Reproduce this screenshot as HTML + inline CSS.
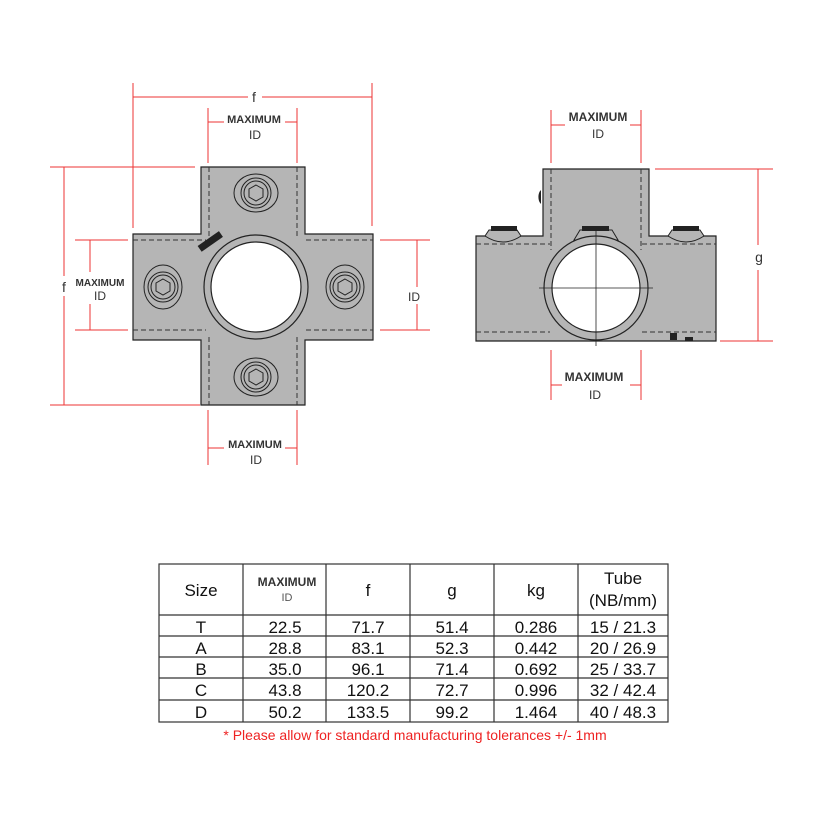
<!DOCTYPE html>
<html><head><style>
html,body{margin:0;padding:0;background:#fff;}
svg{display:block;font-family:"Liberation Sans",Arial,sans-serif;}
</style></head><body>
<svg width="824" height="824" viewBox="0 0 824 824" xmlns="http://www.w3.org/2000/svg">
<rect width="824" height="824" fill="#fff"/>
<!-- LEFT VIEW -->
<g stroke="#222" stroke-width="1.2" fill="#b5b5b5">
<path d="M201,167 H305 V234 H373 V340 H305 V405 H201 V340 H133 V234 H201 Z"/>
</g>
<g stroke="#333" stroke-width="1" stroke-dasharray="5,3" fill="none">
<line x1="209" y1="167" x2="209" y2="238"/><line x1="297" y1="167" x2="297" y2="238"/>
<line x1="209" y1="337" x2="209" y2="405"/><line x1="297" y1="337" x2="297" y2="405"/>
<line x1="133" y1="240" x2="206" y2="240"/><line x1="306" y1="240" x2="373" y2="240"/>
<line x1="133" y1="330" x2="206" y2="330"/><line x1="306" y1="330" x2="373" y2="330"/>
</g>
<circle cx="256" cy="287" r="52" fill="#b5b5b5" stroke="#222" stroke-width="1.2"/>
<circle cx="256" cy="287" r="45" fill="#fff" stroke="#222" stroke-width="1.2"/>
<rect x="197" y="238" width="26" height="7" fill="#222" transform="rotate(-35 210 241)"/>
<g fill="none" stroke="#222" stroke-width="1">
<g id="b1"><ellipse cx="256" cy="193" rx="22" ry="19"/><circle cx="256" cy="193" r="15"/><circle cx="256" cy="193" r="12"/><polygon points="256,185 263,189 263,197 256,201 249,197 249,189"/></g>
<g><ellipse cx="256" cy="377" rx="22" ry="19"/><circle cx="256" cy="377" r="15"/><circle cx="256" cy="377" r="12"/><polygon points="256,369 263,373 263,381 256,385 249,381 249,373"/></g>
<g><ellipse cx="163" cy="287" rx="19" ry="22"/><circle cx="163" cy="287" r="15"/><circle cx="163" cy="287" r="12"/><polygon points="163,279 170,283 170,291 163,295 156,291 156,283"/></g>
<g><ellipse cx="345" cy="287" rx="19" ry="22"/><circle cx="345" cy="287" r="15"/><circle cx="345" cy="287" r="12"/><polygon points="345,279 352,283 352,291 345,295 338,291 338,283"/></g>
</g>
<!-- red dims left -->
<g stroke="#e33" stroke-width="1" fill="none">
<line x1="133" y1="83" x2="133" y2="228"/><line x1="372" y1="83" x2="372" y2="226"/>
<line x1="133" y1="97" x2="248" y2="97"/><line x1="262" y1="97" x2="372" y2="97"/>
<line x1="208" y1="108" x2="208" y2="163"/><line x1="297" y1="108" x2="297" y2="163"/>
<line x1="208" y1="122" x2="224" y2="122"/><line x1="285" y1="122" x2="297" y2="122"/>
<line x1="50" y1="167" x2="195" y2="167"/><line x1="50" y1="405" x2="200" y2="405"/>
<line x1="64" y1="167" x2="64" y2="276"/><line x1="64" y1="296" x2="64" y2="405"/>
<line x1="75" y1="240" x2="128" y2="240"/><line x1="75" y1="330" x2="128" y2="330"/>
<line x1="90" y1="240" x2="90" y2="272"/><line x1="90" y1="304" x2="90" y2="330"/>
<line x1="380" y1="240" x2="430" y2="240"/><line x1="380" y1="330" x2="430" y2="330"/>
<line x1="417" y1="240" x2="417" y2="287"/><line x1="417" y1="304" x2="417" y2="330"/>
<line x1="208" y1="410" x2="208" y2="465"/><line x1="297" y1="410" x2="297" y2="465"/>
<line x1="208" y1="448" x2="224" y2="448"/><line x1="285" y1="448" x2="297" y2="448"/>
</g>
<g font-size="12" fill="#333" text-anchor="middle">
<text x="254" y="102" font-size="14">f</text>
<text x="254" y="123" font-weight="bold" font-size="11">MAXIMUM</text><text x="255" y="139" font-size="12">ID</text>
<text x="64" y="292" font-size="14">f</text>
<text x="100" y="286" font-weight="bold" font-size="10">MAXIMUM</text><text x="100" y="300">ID</text>
<text x="414" y="301">ID</text>
<text x="255" y="448" font-weight="bold" font-size="11">MAXIMUM</text><text x="256" y="464">ID</text>
</g>
<!-- RIGHT VIEW -->
<path d="M543,169 H649 V236 H716 V341 H476 V236 H543 Z" fill="#b5b5b5" stroke="#222" stroke-width="1.2"/>
<path d="M541,190 a5,8 0 0 0 0,14" fill="#222"/>
<g stroke="#333" stroke-width="1" stroke-dasharray="5,3" fill="none">
<line x1="551" y1="169" x2="551" y2="250"/><line x1="641" y1="169" x2="641" y2="250"/>
<line x1="476" y1="244" x2="550" y2="244"/><line x1="642" y1="244" x2="716" y2="244"/>
<line x1="476" y1="332" x2="550" y2="332"/><line x1="642" y1="332" x2="716" y2="332"/>
</g>
<g fill="#b5b5b5" stroke="#222" stroke-width="1">
<path d="M485,236 q18,12 36,0 l-4,-6 h-28 z"/><path d="M668,236 q18,12 36,0 l-4,-6 h-28 z"/>
<path d="M574,240 l6,-10 h32 l6,10 z"/>
</g>
<g fill="#222"><rect x="491" y="226" width="26" height="5"/><rect x="582" y="226" width="27" height="5"/><rect x="673" y="226" width="26" height="5"/>
<rect x="670" y="333" width="7" height="7"/><rect x="685" y="337" width="8" height="4"/></g>
<circle cx="596" cy="288" r="52" fill="#b5b5b5" stroke="#222" stroke-width="1.2"/>
<circle cx="596" cy="288" r="44" fill="#fff" stroke="#222" stroke-width="1.2"/>
<g stroke="#222" stroke-width="0.8"><line x1="596" y1="226" x2="596" y2="346"/><line x1="539" y1="288" x2="653" y2="288"/></g>
<g stroke="#e33" stroke-width="1" fill="none">
<line x1="551" y1="110" x2="551" y2="163"/><line x1="641" y1="110" x2="641" y2="163"/>
<line x1="551" y1="125" x2="565" y2="125"/><line x1="630" y1="125" x2="641" y2="125"/>
<line x1="655" y1="169" x2="773" y2="169"/><line x1="720" y1="341" x2="773" y2="341"/>
<line x1="758" y1="169" x2="758" y2="245"/><line x1="758" y1="270" x2="758" y2="341"/>
<line x1="551" y1="350" x2="551" y2="400"/><line x1="641" y1="350" x2="641" y2="400"/>
<line x1="551" y1="385" x2="562" y2="385"/><line x1="630" y1="385" x2="641" y2="385"/>
</g>
<g fill="#333" text-anchor="middle">
<text x="598" y="121" font-weight="bold" font-size="12">MAXIMUM</text><text x="598" y="138" font-size="12">ID</text>
<text x="759" y="262" font-size="14">g</text>
<text x="594" y="381" font-weight="bold" font-size="12">MAXIMUM</text><text x="595" y="399" font-size="12">ID</text>
</g>
<!-- TABLE -->
<g stroke="#333" stroke-width="1.2" fill="none">
<rect x="159" y="564" width="509" height="158"/>
<line x1="243" y1="564" x2="243" y2="722"/><line x1="326" y1="564" x2="326" y2="722"/>
<line x1="410" y1="564" x2="410" y2="722"/><line x1="494" y1="564" x2="494" y2="722"/>
<line x1="578" y1="564" x2="578" y2="722"/>
<line x1="159" y1="615" x2="668" y2="615"/><line x1="159" y1="636" x2="668" y2="636"/>
<line x1="159" y1="657" x2="668" y2="657"/><line x1="159" y1="678" x2="668" y2="678"/>
<line x1="159" y1="700" x2="668" y2="700"/>
</g>
<g fill="#111" text-anchor="middle" font-size="17">
<text x="201" y="596">Size</text>
<text x="287" y="586" font-size="12" font-weight="bold" fill="#333">MAXIMUM</text><text x="287" y="601" font-size="11" fill="#555">ID</text>
<text x="368" y="596">f</text><text x="452" y="596">g</text><text x="536" y="596">kg</text>
<text x="623" y="584">Tube</text><text x="623" y="606">(NB/mm)</text>
</g>
<g fill="#111" text-anchor="middle" font-size="17">
<text x="201" y="633">T</text><text x="285" y="633">22.5</text><text x="368" y="633">71.7</text><text x="452" y="633">51.4</text><text x="536" y="633">0.286</text><text x="623" y="633">15 / 21.3</text>
<text x="201" y="654">A</text><text x="285" y="654">28.8</text><text x="368" y="654">83.1</text><text x="452" y="654">52.3</text><text x="536" y="654">0.442</text><text x="623" y="654">20 / 26.9</text>
<text x="201" y="675">B</text><text x="285" y="675">35.0</text><text x="368" y="675">96.1</text><text x="452" y="675">71.4</text><text x="536" y="675">0.692</text><text x="623" y="675">25 / 33.7</text>
<text x="201" y="696">C</text><text x="285" y="696">43.8</text><text x="368" y="696">120.2</text><text x="452" y="696">72.7</text><text x="536" y="696">0.996</text><text x="623" y="696">32 / 42.4</text>
<text x="201" y="718">D</text><text x="285" y="718">50.2</text><text x="368" y="718">133.5</text><text x="452" y="718">99.2</text><text x="536" y="718">1.464</text><text x="623" y="718">40 / 48.3</text>
</g>
<text x="415" y="740" text-anchor="middle" font-size="14" fill="#e22">* Please allow for standard manufacturing tolerances +/- 1mm</text>
</svg>
</body></html>
